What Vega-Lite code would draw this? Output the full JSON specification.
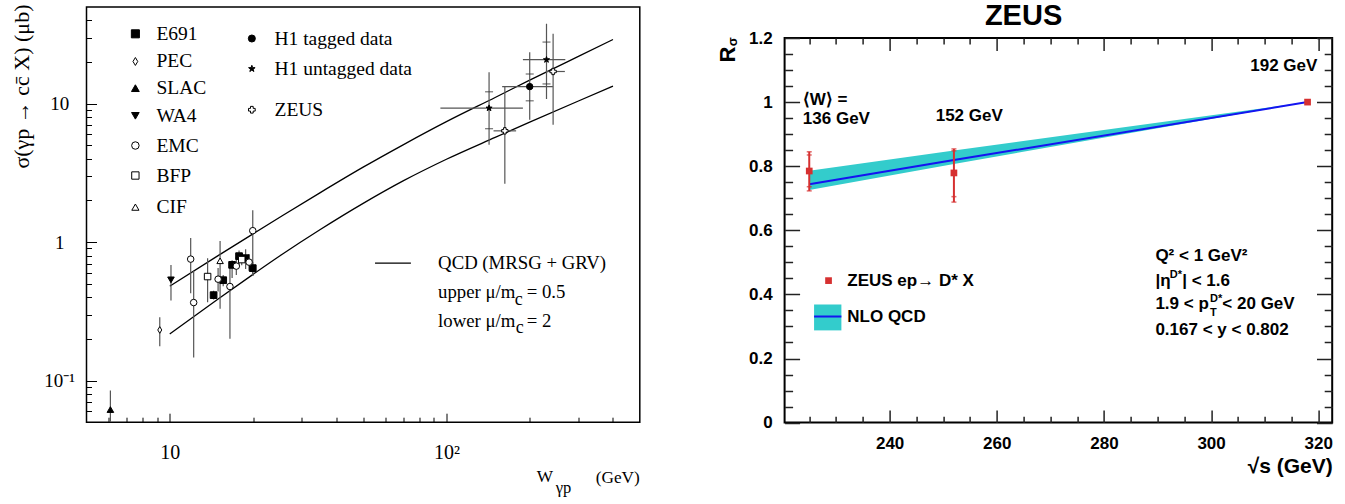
{
"$schema": "https://vega.github.io/schema/vega-lite/v6.json",
"background": "white",
"padding": {"left": 9.5, "top": 2, "right": 0, "bottom": 0},
"bounds": "flush",
"spacing": 144.1,
"config": {"view": {"stroke": "black", "strokeWidth": 1.5}, "axis": {"grid": false, "domain": false, "labelFlush": false, "labelOverlap": false, "tickColor": "black", "labelColor": "black", "titleColor": "black"}},
"datasets": {
"curves": [
{"c":"up","W":10,"s":0.481},{"c":"up","W":15,"s":0.802},{"c":"up","W":20,"s":1.148},{"c":"up","W":25.5,"s":1.55},{"c":"up","W":35,"s":2.28},{"c":"up","W":50,"s":3.48},{"c":"up","W":70,"s":5.07},{"c":"up","W":100,"s":7.42},{"c":"up","W":150,"s":11.1},{"c":"up","W":200,"s":14.8},{"c":"up","W":300,"s":22.0},{"c":"up","W":400,"s":29.1},
{"c":"lo","W":10,"s":0.217},{"c":"lo","W":15,"s":0.39},{"c":"lo","W":20,"s":0.585},{"c":"lo","W":25.5,"s":0.817},{"c":"lo","W":35,"s":1.233},{"c":"lo","W":50,"s":1.905},{"c":"lo","W":70,"s":2.78},{"c":"lo","W":100,"s":3.97},{"c":"lo","W":150,"s":5.71},{"c":"lo","W":200,"s":7.36},{"c":"lo","W":300,"s":10.47},{"c":"lo","W":400,"s":13.4}
],
"lp": [
{"e":"E691","W":14.4,"s":0.414,"slo":0.385,"shi":0.445},
{"e":"E691","W":15.6,"s":0.531,"slo":0.48,"shi":0.58},
{"e":"E691","W":16.8,"s":0.685,"slo":0.55,"shi":0.74},
{"e":"E691","W":17.8,"s":0.792,"slo":0.68,"shi":0.87},
{"e":"E691","W":18.8,"s":0.766,"slo":0.64,"shi":0.89},
{"e":"E691","W":19.95,"s":0.649,"slo":0.57,"shi":0.72},
{"e":"PEC","W":9.2,"s":0.232,"slo":0.177,"shi":0.287},
{"e":"SLAC","W":6.1,"s":0.0617,"slo":0.05,"shi":0.0847},
{"e":"WA4","W":10.1,"s":0.534,"slo":0.378,"shi":0.685},
{"e":"EMC","W":11.9,"s":0.754,"slo":0.428,"shi":1.07},
{"e":"EMC","W":12.2,"s":0.366,"slo":0.147,"shi":0.62},
{"e":"EMC","W":14.95,"s":0.54,"slo":0.44,"shi":0.65},
{"e":"EMC","W":16.5,"s":0.478,"slo":0.2,"shi":0.717},
{"e":"EMC","W":17.4,"s":0.671,"slo":0.58,"shi":0.78},
{"e":"EMC","W":19.35,"s":0.717,"slo":0.62,"shi":0.82},
{"e":"EMC","W":19.95,"s":1.21,"slo":0.57,"shi":1.7},
{"e":"BFP","W":13.7,"s":0.564,"slo":0.368,"shi":0.766},
{"e":"BFP","W":18.2,"s":0.748,"slo":0.68,"shi":0.83},
{"e":"CIF","W":15.2,"s":0.733,"slo":0.33,"shi":1.02},
{"e":"H1t","W":200,"s":13.3,"slo":7.65,"shi":23.6,"wlo":159,"whi":242.6,"tlo":10.5,"thi":16.4},
{"e":"H1u","W":142.6,"s":9.3,"slo":5.05,"shi":16.9,"wlo":95.1,"whi":189,"tlo":6.6,"thi":12.2},
{"e":"H1u","W":230,"s":20.8,"slo":10.8,"shi":37.8,"wlo":189,"whi":269,"tlo":13.9,"thi":27.9},
{"e":"ZEUS","W":162.6,"s":6.37,"slo":2.64,"shi":13.2,"wlo":148,"whi":178.6},
{"e":"ZEUS","W":243,"s":17.1,"slo":7.04,"shi":32,"wlo":231,"whi":268}
],
"lleg": [
{"e":"E691","W":7.51,"s":32.0},{"e":"PEC","W":7.51,"s":20.2},{"e":"SLAC","W":7.51,"s":12.96},{"e":"WA4","W":7.51,"s":8.18},{"e":"EMC","W":7.51,"s":4.99},{"e":"BFP","W":7.51,"s":3.03},{"e":"CIF","W":7.51,"s":1.79},{"e":"H1t","W":19.8,"s":29.6},{"e":"H1u","W":19.8,"s":17.9},{"e":"ZEUS","W":19.8,"s":9.05}
],
"qline": [{"W":55.2,"W2":74.4,"s":0.705}],
"ltl": [
{"t":"E691","W":8.95,"s":32.0,"r":"leg"},{"t":"PEC","W":8.95,"s":20.2,"r":"leg"},{"t":"SLAC","W":8.95,"s":12.96,"r":"leg"},{"t":"WA4","W":8.95,"s":8.18,"r":"leg"},{"t":"EMC","W":8.95,"s":4.99,"r":"leg"},{"t":"BFP","W":8.95,"s":3.03,"r":"leg"},{"t":"CIF","W":8.95,"s":1.79,"r":"leg"},
{"t":"H1 tagged data","W":23.9,"s":29.6,"r":"leg"},{"t":"H1 untagged data","W":23.9,"s":17.9,"r":"leg"},{"t":"ZEUS","W":23.9,"s":9.05,"r":"leg"},
{"t":"QCD (MRSG + GRV)","W":93.3,"s":0.705,"r":"qcd"},{"t":"upper μ/m","W":93.3,"s":0.435,"r":"qcd"},{"t":"lower  μ/m","W":93.3,"s":0.271,"r":"qcd"},{"t":"= 0.5","W":195,"s":0.435,"r":"qcd"},{"t":"= 2","W":195,"s":0.271,"r":"qcd"}
],
"ltc": [
{"t":"c","W":182.5,"s":0.383,"r":"sub"},{"t":"c","W":184,"s":0.239,"r":"sub"},{"t":"W","W":227,"s":0.0201,"r":"xt"},{"t":"γp","W":265,"s":0.0168,"r":"xs"}
],
"ltr": [{"t":"(GeV)","W":500,"s":0.01965,"r":"xt"}],
"band": [{"x":225,"lo":0.726,"hi":0.786,"c":0.744},{"x":252,"lo":0.807,"hi":0.849,"c":0.819},{"x":318,"lo":1.0,"hi":1.0,"c":1.0}],
"rp": [{"x":225,"y":0.785,"lo":0.723,"hi":0.845,"slo":0.736,"shi":0.835},{"x":252,"y":0.779,"lo":0.688,"hi":0.854,"slo":0.705,"shi":0.848},{"x":318,"y":1.0}],
"rbox": [{"x":225.9,"x2":231.0,"y":0.2877,"y2":0.3685,"ym":0.331}],
"rlegpt": [{"x":228.6,"y":0.443}],
"rt": [
{"t":"⟨W⟩ =","x":223.8,"y":1.006,"r":"m"},{"t":"136 GeV","x":223.8,"y":0.946,"r":"m"},{"t":"152 GeV","x":248.6,"y":0.958,"r":"m"},{"t":"192 GeV","x":307.3,"y":1.112,"r":"m"},
{"t":"ZEUS ep→ D* X","x":232.1,"y":0.443,"r":"m"},{"t":"NLO QCD","x":232.1,"y":0.329,"r":"m"},
{"t":"Q² < 1 GeV²","x":289.6,"y":0.521,"r":"m"},
{"t":"|η","x":289.6,"y":0.443,"r":"m"},{"t":"D*","x":292.3,"y":0.459,"r":"s"},{"t":"| < 1.6","x":294.6,"y":0.443,"r":"m"},
{"t":"1.9 < p","x":289.6,"y":0.369,"r":"m"},{"t":"D*","x":299.8,"y":0.386,"r":"s"},{"t":"T","x":299.8,"y":0.342,"r":"s"},{"t":"< 20 GeV","x":302.1,"y":0.369,"r":"m"},
{"t":"0.167 < y < 0.802","x":289.6,"y":0.288,"r":"m"}
],
"rtr": [{"t":"R","x":209.9,"y":1.148,"r":"R"},{"t":"σ","x":210.8,"y":1.188,"r":"sg"}]
},
"hconcat": [
{
"width": 553.3, "height": 415.2,
"view": {"stroke": "black", "strokeWidth": 1.5},
"resolve": {"axis": {"x": "independent", "y": "independent"}, "scale": {"size": "independent"}},
"layer": [
{"data": {"name": "curves"}, "mark": {"type": "line", "color": "black", "strokeWidth": 1.3, "interpolate": "monotone"},
 "encoding": {
  "x": {"field": "W", "type": "quantitative", "scale": {"type": "log", "domain": [5, 500], "nice": false},
   "axis": {"values": [6,7,8,9,10,20,30,40,50,60,70,80,90,100,200,300,400],
    "labelExpr": "datum.value == 10 ? '10' : datum.value == 100 ? '10²' : ''",
    "tickSize": {"condition": {"test": "datum.value == 10 || datum.value == 100", "value": -9}, "value": -5},
    "tickWidth": 1, "labelPadding": 29.7, "labelFont": "Liberation Serif", "labelFontSize": 20, "title": null}},
  "y": {"field": "s", "type": "quantitative", "scale": {"type": "log", "domain": [0.05, 50], "nice": false},
   "axis": {"values": [0.06,0.07,0.08,0.09,0.1,0.2,0.3,0.4,0.5,0.6,0.7,0.8,0.9,1,2,3,4,5,6,7,8,9,10,20,30,40],
    "labelExpr": "datum.value == 10 ? '10' : datum.value == 1 ? '1' : datum.value == 0.1 ? '10⁻¹' : ''",
    "tickSize": {"condition": {"test": "datum.value == 10 || datum.value == 1 || datum.value == 0.1", "value": -10}, "value": -5},
    "tickWidth": 1, "labelAlign": "center", "labelBaseline": "middle", "labelPadding": 37.3,
    "labelFont": "Liberation Serif", "labelFontSize": 19,
    "title": "σ(γp → cc̄ X)  (μb)", "titleFont": "Liberation Serif", "titleFontSize": 22, "titleFontWeight": "normal",
    "titleAnchor": "end", "titleBaseline": "alphabetic", "titleX": -58, "titleY": -3}},
  "detail": {"field": "c", "type": "nominal"}}},
{"data": {"name": "lp"}, "mark": {"type": "rule", "color": "#555", "strokeWidth": 1.2, "clip": true},
 "encoding": {"x": {"field": "W", "type": "quantitative", "scale": {"type": "log"}, "axis": null},
  "y": {"field": "slo", "type": "quantitative", "scale": {"type": "log"}, "axis": null}, "y2": {"field": "shi"}}},
{"data": {"name": "lp"}, "transform": [{"filter": "isValid(datum.wlo)"}], "mark": {"type": "rule", "color": "#555", "strokeWidth": 1.2},
 "encoding": {"x": {"field": "wlo", "type": "quantitative", "scale": {"type": "log"}, "axis": null}, "x2": {"field": "whi"},
  "y": {"field": "s", "type": "quantitative", "scale": {"type": "log"}, "axis": null}}},
{"data": {"name": "lp"}, "transform": [{"fold": ["tlo", "thi"], "as": ["k", "v"]}, {"filter": "isValid(datum.v)"}],
 "mark": {"type": "tick", "orient": "horizontal", "color": "#333", "size": 8, "thickness": 1.2},
 "encoding": {"x": {"field": "W", "type": "quantitative", "scale": {"type": "log"}, "axis": null},
  "y": {"field": "v", "type": "quantitative", "scale": {"type": "log"}, "axis": null}}},
{"data": {"name": "lp"}, "mark": {"type": "point", "filled": true, "stroke": "black", "strokeWidth": 1, "opacity": 1},
 "encoding": {"x": {"field": "W", "type": "quantitative", "scale": {"type": "log"}, "axis": null},
  "y": {"field": "s", "type": "quantitative", "scale": {"type": "log"}, "axis": null},
  "shape": {"field": "e", "type": "nominal", "legend": null, "scale": {"domain": ["E691","PEC","SLAC","WA4","EMC","BFP","CIF","H1t","H1u","ZEUS"], "range": ["square","M0,-1L0.6,0L0,1L-0.6,0Z","triangle-up","triangle-down","circle","square","triangle-up","circle","M0,-1L0.235,-0.324L0.951,-0.309L0.38,0.124L0.588,0.809L0,0.4L-0.588,0.809L-0.38,0.124L-0.951,-0.309L-0.235,-0.324Z","cross"]}},
  "fill": {"field": "e", "type": "nominal", "legend": null, "scale": {"domain": ["E691","PEC","SLAC","WA4","EMC","BFP","CIF","H1t","H1u","ZEUS"], "range": ["black","white","black","black","white","white","white","black","black","white"]}},
  "size": {"field": "e", "type": "nominal", "legend": null, "scale": {"domain": ["E691","PEC","SLAC","WA4","EMC","BFP","CIF","H1t","H1u","ZEUS"], "range": [45,40,50,50,55,60,65,140,500,150]}}}},
{"data": {"name": "lleg"}, "mark": {"type": "point", "filled": true, "stroke": "black", "strokeWidth": 1, "opacity": 1},
 "encoding": {"x": {"field": "W", "type": "quantitative", "scale": {"type": "log"}, "axis": null},
  "y": {"field": "s", "type": "quantitative", "scale": {"type": "log"}, "axis": null},
  "shape": {"field": "e", "type": "nominal", "legend": null},
  "fill": {"field": "e", "type": "nominal", "legend": null},
  "size": {"field": "e", "type": "nominal", "legend": null, "scale": {"domain": ["E691","PEC","SLAC","WA4","EMC","BFP","CIF","H1t","H1u","ZEUS"], "range": [65,45,65,65,70,75,80,120,300,130]}}}},
{"data": {"name": "qline"}, "mark": {"type": "rule", "color": "black", "strokeWidth": 1.3},
 "encoding": {"x": {"field": "W", "type": "quantitative", "scale": {"type": "log"}, "axis": null}, "x2": {"field": "W2"},
  "y": {"field": "s", "type": "quantitative", "scale": {"type": "log"}, "axis": null}}},
{"data": {"name": "ltl"}, "mark": {"type": "text", "align": "left", "baseline": "middle", "font": "Liberation Serif", "color": "black"},
 "encoding": {"x": {"field": "W", "type": "quantitative", "scale": {"type": "log"}, "axis": null},
  "y": {"field": "s", "type": "quantitative", "scale": {"type": "log"}, "axis": null},
  "text": {"field": "t"},
  "size": {"field": "r", "type": "nominal", "legend": null, "scale": {"domain": ["leg","qcd","sub","xt","xs"], "range": [19.5,16.5,12,20,13]}}}},
{"data": {"name": "ltc"}, "mark": {"type": "text", "align": "center", "baseline": "middle", "font": "Liberation Serif", "color": "black"},
 "encoding": {"x": {"field": "W", "type": "quantitative", "scale": {"type": "log"}, "axis": null},
  "y": {"field": "s", "type": "quantitative", "scale": {"type": "log"}, "axis": null},
  "text": {"field": "t"},
  "size": {"field": "r", "type": "nominal", "legend": null, "scale": {"domain": ["leg","qcd","sub","xt","xs"], "range": [19.5,16.5,12,20,13]}}}},
{"data": {"name": "ltr"}, "mark": {"type": "text", "align": "right", "baseline": "middle", "font": "Liberation Serif", "color": "black"},
 "encoding": {"x": {"field": "W", "type": "quantitative", "scale": {"type": "log"}, "axis": null},
  "y": {"field": "s", "type": "quantitative", "scale": {"type": "log"}, "axis": null},
  "text": {"field": "t"},
  "size": {"field": "r", "type": "nominal", "legend": null, "scale": {"domain": ["leg","qcd","sub","xt","xs"], "range": [19.5,16.5,12,20,13]}}}}
]
},
{
"bounds": "flush",
"spacing": 0,
"vconcat": [
{"width": 547.6, "height": 30.2, "view": {"stroke": null},
 "data": {"values": [{"t": "ZEUS", "x": 265.0, "y": 0.699}]},
 "mark": {"type": "text", "font": "Liberation Sans", "fontWeight": "bold", "fontSize": 29, "align": "center", "baseline": "middle", "color": "black"},
 "encoding": {"x": {"field": "x", "type": "quantitative", "scale": {"domain": [220.4, 322.6], "nice": false, "zero": false}, "axis": null},
  "y": {"field": "y", "type": "quantitative", "scale": {"domain": [0, 1], "nice": false}, "axis": null},
  "text": {"field": "t"}}},
{"width": 547.6, "height": 384.6,
 "view": {"stroke": "black", "strokeWidth": 2},
 "resolve": {"axis": {"x": "independent", "y": "independent"}, "scale": {"size": "independent"}},
 "layer": [
 {"data": {"name": "band"}, "mark": {"type": "area", "color": "#33cccc", "opacity": 1},
  "encoding": {
   "x": {"field": "x", "type": "quantitative", "scale": {"domain": [220.4, 322.6], "nice": false, "zero": false},
    "axis": {"orient": "bottom", "values": [225,230,235,240,245,250,255,260,265,270,275,280,285,290,295,300,305,310,315,320],
     "labelExpr": "datum.value % 20 == 0 ? '' + datum.value : ''",
     "tickSize": {"condition": {"test": "datum.value % 20 == 0", "value": -12.5}, "value": -6.3},
     "tickWidth": 1.5, "tickColor": "#222", "labelPadding": 25, "labelFont": "Liberation Sans", "labelFontWeight": "bold", "labelFontSize": 17,
     "title": "√s (GeV)", "titleFont": "Liberation Sans", "titleFontWeight": "bold", "titleFontSize": 21, "titleAnchor": "end", "titleBaseline": "middle", "titleY": 44}},
   "y": {"field": "lo", "type": "quantitative", "scale": {"domain": [0, 1.2], "nice": false},
    "axis": {"orient": "left", "values": [0,0.05,0.1,0.15,0.2,0.25,0.3,0.35,0.4,0.45,0.5,0.55,0.6,0.65,0.7,0.75,0.8,0.85,0.9,0.95,1,1.05,1.1,1.15,1.2],
     "labelExpr": "abs(datum.value*5 - round(datum.value*5)) < 0.001 ? '' + datum.value : ''",
     "tickSize": {"condition": {"test": "abs(datum.value*5 - round(datum.value*5)) < 0.001", "value": -15}, "value": -8},
     "tickWidth": 1.5, "tickColor": "#222", "labelPadding": 27.4, "labelFont": "Liberation Sans", "labelFontWeight": "bold", "labelFontSize": 17, "title": null}},
   "y2": {"field": "hi"}}},
 {"data": {"name": "band"}, "mark": {"type": "line", "color": "#1414f0", "strokeWidth": 2},
  "encoding": {
   "x": {"field": "x", "type": "quantitative", "scale": {"domain": [220.4, 322.6], "nice": false, "zero": false},
    "axis": {"orient": "top", "values": [225,230,235,240,245,250,255,260,265,270,275,280,285,290,295,300,305,310,315,320], "labels": false,
     "tickSize": {"condition": {"test": "datum.value % 20 == 0", "value": -12.6}, "value": -6}, "tickWidth": 1.5, "tickColor": "#222", "title": null}},
   "y": {"field": "c", "type": "quantitative", "scale": {"domain": [0, 1.2], "nice": false},
    "axis": {"orient": "right", "values": [0,0.05,0.1,0.15,0.2,0.25,0.3,0.35,0.4,0.45,0.5,0.55,0.6,0.65,0.7,0.75,0.8,0.85,0.9,0.95,1,1.05,1.1,1.15,1.2], "labels": false,
     "tickSize": {"condition": {"test": "abs(datum.value*5 - round(datum.value*5)) < 0.001", "value": -15.7}, "value": -8}, "tickWidth": 1.5, "tickColor": "#222", "title": null}}}},
 {"data": {"name": "rp"}, "transform": [{"filter": "isValid(datum.lo)"}], "mark": {"type": "rule", "color": "#d63030", "strokeWidth": 2},
  "encoding": {"x": {"field": "x", "type": "quantitative", "axis": null}, "y": {"field": "lo", "type": "quantitative", "axis": null}, "y2": {"field": "hi"}}},
 {"data": {"name": "rp"}, "transform": [{"fold": ["lo", "hi", "slo", "shi"], "as": ["k", "v"]}, {"filter": "isValid(datum.v)"}],
  "mark": {"type": "tick", "orient": "horizontal", "color": "#d63030", "size": 5, "thickness": 1.5},
  "encoding": {"x": {"field": "x", "type": "quantitative", "axis": null}, "y": {"field": "v", "type": "quantitative", "axis": null}}},
 {"data": {"name": "rp"}, "mark": {"type": "point", "shape": "square", "filled": true, "color": "#d63030", "size": 45, "opacity": 1},
  "encoding": {"x": {"field": "x", "type": "quantitative", "axis": null}, "y": {"field": "y", "type": "quantitative", "axis": null}}},
 {"data": {"name": "rbox"}, "mark": {"type": "rect", "color": "#33cccc", "opacity": 1},
  "encoding": {"x": {"field": "x", "type": "quantitative", "axis": null}, "x2": {"field": "x2"}, "y": {"field": "y", "type": "quantitative", "axis": null}, "y2": {"field": "y2"}}},
 {"data": {"name": "rbox"}, "mark": {"type": "rule", "color": "#1414f0", "strokeWidth": 2},
  "encoding": {"x": {"field": "x", "type": "quantitative", "axis": null}, "x2": {"field": "x2"}, "y": {"field": "ym", "type": "quantitative", "axis": null}}},
 {"data": {"name": "rlegpt"}, "mark": {"type": "point", "shape": "square", "filled": true, "color": "#d63030", "size": 45, "opacity": 1},
  "encoding": {"x": {"field": "x", "type": "quantitative", "axis": null}, "y": {"field": "y", "type": "quantitative", "axis": null}}},
 {"data": {"name": "rt"}, "mark": {"type": "text", "align": "left", "baseline": "middle", "font": "Liberation Sans", "fontWeight": "bold", "color": "black"},
  "encoding": {"x": {"field": "x", "type": "quantitative", "axis": null}, "y": {"field": "y", "type": "quantitative", "axis": null},
   "text": {"field": "t"},
   "size": {"field": "r", "type": "nominal", "legend": null, "scale": {"domain": ["m", "s"], "range": [17, 11]}}}},
 {"data": {"name": "rtr"}, "mark": {"type": "text", "align": "center", "baseline": "middle", "angle": 270, "font": "Liberation Sans", "fontWeight": "bold", "color": "black"},
  "encoding": {"x": {"field": "x", "type": "quantitative", "axis": null}, "y": {"field": "y", "type": "quantitative", "axis": null},
   "text": {"field": "t"},
   "size": {"field": "r", "type": "nominal", "legend": null, "scale": {"domain": ["R", "sg"], "range": [22, 13]}}}}
 ]
}
]
}
]
}
